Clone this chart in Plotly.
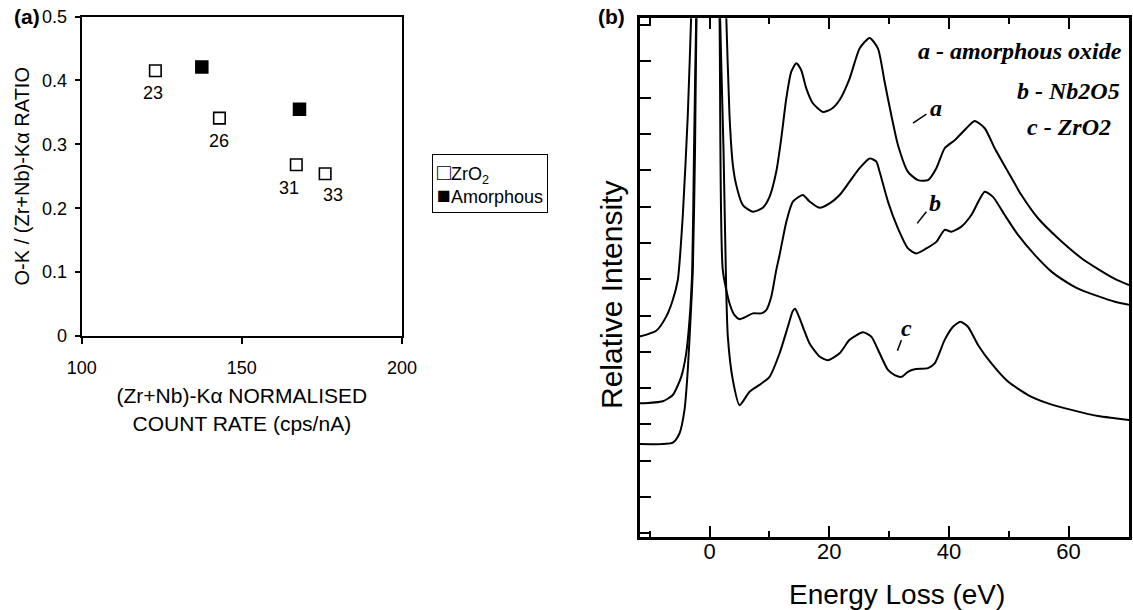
import plotly.graph_objects as go

# ---------------- Panel (a): O-K / (Zr+Nb)-K ratio vs count rate ----------------
zro2_rate = [123, 143, 167, 176]
zro2_ratio = [0.415, 0.341, 0.268, 0.254]
zro2_tags = ["23", "26", "31", "33"]

amorph_rate = [137.5, 168]
amorph_ratio = [0.421, 0.355]

# ---------------- Panel (b): low-loss EELS spectra ----------------
energy_a = [-11.7, -8.9, -7.24, -6.14, -5.3, -4.46, -3.63, -3.06, -0.1, 2.79, 3.34, 3.9,
            4.46, 5.57, 7.24, 8.91, 10.03, 11.15, 11.99, 12.83, 13.66, 14.5, 15.33, 16.17,
            17.27, 18.95, 20.35, 21.74, 23.41, 25.08, 26.76, 28.14, 29.26, 30.38, 31.49,
            33.16, 34.83, 36.51, 37.91, 39.3, 40.97, 42.64, 44.31, 45.99, 47.66, 49.88,
            52.12, 54.9, 58.24, 62.16, 64.94, 67.73, 70.1]
intensity_a = [5.42, 5.58, 5.97, 6.43, 6.98, 8.77, 11.52, 14.28, 30.0, 14.28, 11.52, 10.15,
               9.6, 9.04, 8.86, 8.97, 9.27, 9.96, 10.88, 11.98, 12.72, 12.95, 12.76, 12.26,
               11.85, 11.61, 11.69, 11.94, 12.53, 13.36, 13.65, 13.36, 12.44, 11.52, 10.7,
               9.96, 9.73, 9.73, 10.06, 10.61, 10.83, 11.11, 11.36, 11.16, 10.61, 9.96,
               9.32, 8.68, 8.13, 7.58, 7.28, 7.01, 6.84]

energy_b = [-11.7, -7.81, -6.14, -4.73, -3.9, -3.34, -2.89, -2.59, -2.22, 0.0, 1.67, 2.22,
            3.34, 4.18, 5.02, 6.14, 7.24, 8.65, 9.48, 10.32, 11.15, 11.71, 12.83, 13.93,
            15.6, 16.72, 18.39, 20.07, 21.74, 23.41, 25.08, 26.76, 27.88, 28.43, 29.82,
            31.49, 33.16, 34.57, 36.24, 37.91, 39.3, 40.42, 42.09, 43.76, 45.99, 47.37,
            49.33, 51.56, 54.35, 57.14, 60.48, 62.16, 67.73, 70.1]
intensity_b = [3.58, 3.64, 3.81, 4.31, 4.96, 5.88, 7.25, 10.56, 14.28, 30.0, 14.28, 7.25,
               6.34, 6.01, 5.9, 5.97, 6.06, 6.06, 6.15, 6.52, 7.25, 7.67, 8.58, 9.14,
               9.32, 9.14, 8.97, 9.09, 9.32, 9.69, 10.06, 10.33, 10.24, 9.96, 9.14,
               8.4, 7.85, 7.71, 7.85, 8.03, 8.36, 8.31, 8.45, 8.77, 9.41, 9.27,
               8.77, 8.22, 7.67, 7.21, 6.84, 6.7, 6.38, 6.3]

energy_c = [-11.7, -6.14, -5.02, -4.18, -3.63, -3.18, -2.79, -2.42, -2.17, 0.0, 1.76, 2.34,
            2.79, 3.06, 3.9, 5.02, 6.69, 8.36, 10.03, 11.71, 13.09, 13.9, 14.3, 15.0, 15.8,
            16.72, 18.39, 19.78, 21.74, 23.41, 25.64, 27.04, 28.43, 29.82, 30.94, 32.06,
            33.16, 34.28, 36.51, 37.63, 39.3, 40.69, 41.92, 43.19, 44.87, 47.11, 49.88,
            53.23, 56.57, 60.48, 64.93, 67.73, 70.1]
intensity_c = [2.46, 2.5, 2.75, 3.4, 4.5, 5.88, 7.25, 10.56, 14.28, 30.0, 14.28, 10.56,
               6.7, 5.42, 4.22, 3.53, 3.9, 4.09, 4.31, 4.96, 5.69, 6.12, 6.19, 5.95, 5.6,
               5.23, 4.87, 4.77, 4.96, 5.33, 5.54, 5.42, 4.96, 4.5, 4.36, 4.31,
               4.45, 4.52, 4.55, 4.68, 5.33, 5.69, 5.83, 5.69, 5.19, 4.68, 4.18,
               3.81, 3.58, 3.4, 3.23, 3.17, 3.12]

curve_names = ["a", "b", "c"]
curve_legend = ["a - amorphous oxide", "b - Nb2O5", "c - ZrO2"]

# ---------------- styling ----------------
W, H = 1133, 610
SANS = "Liberation Sans"
SERIF = "Liberation Serif"
INK = "black"

# pixel offsets of the sample tags from their markers
TAG_SHIFTS = [(-2, -22), (0, -23), (-7, -23), (8, -21)]

# curve-letter pointer positions (label x, label y, tick x0, y0, x1, y1) in data units
POINTERS = [
    (37.9, 11.71, 34.0, 11.30, 36.24, 11.55),
    (37.63, 9.09, 34.7, 8.54, 36.24, 8.86),
    (32.9, 5.67, 31.4, 5.03, 32.06, 5.32),
]
# right-hand key: (right x, centre y)
KEY_POS = [(69.3, 13.29), (69.0, 12.19), (67.5, 11.2)]


def px_x(p):
    return p / W


def px_y(p):
    return (H - p) / H


fig = go.Figure()

# panel (a) markers
fig.add_trace(go.Scatter(
    x=zro2_rate, y=zro2_ratio, mode="markers", name="ZrO2", showlegend=False,
    marker=dict(symbol="square-open", size=11.5, color=INK, line=dict(width=1.6, color=INK)),
    xaxis="x", yaxis="y"))
fig.add_trace(go.Scatter(
    x=amorph_rate, y=amorph_ratio, mode="markers", name="Amorphous", showlegend=False,
    marker=dict(symbol="square", size=13.5, color=INK, line=dict(width=0)),
    xaxis="x", yaxis="y"))

# panel (b) spectra
for ex, iy, nm in [(energy_a, intensity_a, "a"), (energy_b, intensity_b, "b"),
                   (energy_c, intensity_c, "c")]:
    fig.add_trace(go.Scatter(
        x=ex, y=iy, mode="lines", name=nm, showlegend=False,
        line=dict(color=INK, width=2, shape="spline", smoothing=0.6),
        xaxis="x2", yaxis="y2"))

annotations = []

# sample tags below the ZrO2 markers
for xv, yv, tag, (dx, dy) in zip(zro2_rate, zro2_ratio, zro2_tags, TAG_SHIFTS):
    annotations.append(dict(x=xv, y=yv, xref="x", yref="y", text=tag, showarrow=False,
                            xanchor="center", yanchor="middle", xshift=dx, yshift=dy,
                            font=dict(family=SANS, size=18, color=INK)))

# legend box for panel (a)
annotations.append(dict(
    x=px_x(431.5), y=px_y(154), xref="paper", yref="paper", xanchor="left", yanchor="top",
    text=('<span style="font-size:23px">□</span>ZrO<sub>2</sub><br>'
          '<span style="font-size:23px">■</span>Amorphous'),
    align="left", showarrow=False,
    bordercolor=INK, borderwidth=1, borderpad=4, bgcolor="white",
    font=dict(family=SANS, size=18, color=INK)))

# panel letters
annotations.append(dict(x=px_x(27), y=px_y(16), xref="paper", yref="paper", text="<b>(a)</b>",
                        xanchor="center", yanchor="middle", showarrow=False,
                        font=dict(family=SANS, size=21, color=INK)))
annotations.append(dict(x=px_x(611), y=px_y(16), xref="paper", yref="paper", text="<b>(b)</b>",
                        xanchor="center", yanchor="middle", showarrow=False,
                        font=dict(family=SANS, size=21, color=INK)))

# panel (b) key text
for (kx, ky), txt in zip(KEY_POS, curve_legend):
    annotations.append(dict(x=kx, y=ky, xref="x2", yref="y2", xanchor="right", yanchor="middle",
                            text="<b><i>%s</i></b>" % txt, showarrow=False,
                            font=dict(family=SERIF, size=24, color=INK)))

shapes = []
for (lx, ly, x0, y0, x1, y1), nm in zip(POINTERS, curve_names):
    annotations.append(dict(x=lx, y=ly, xref="x2", yref="y2", text="<b><i>%s</i></b>" % nm,
                            xanchor="center", yanchor="middle", showarrow=False,
                            font=dict(family=SERIF, size=24, color=INK)))
    shapes.append(dict(type="line", xref="x2", yref="y2", x0=x0, y0=y0, x1=x1, y1=y1,
                       line=dict(color=INK, width=1.5)))

# panel (b) axis titles
annotations.append(dict(x=31.3, y=px_y(594), xref="x2", yref="paper", text="Energy Loss (eV)",
                        xanchor="center", yanchor="middle", showarrow=False,
                        font=dict(family=SANS, size=28, color=INK)))
annotations.append(dict(x=px_x(611), y=px_y(295), xref="paper", yref="paper",
                        text="Relative Intensity", textangle=-90, showarrow=False,
                        xanchor="center", yanchor="middle",
                        font=dict(family=SANS, size=30, color=INK)))

axis_common = dict(showgrid=False, zeroline=False, showline=True, linecolor=INK,
                   automargin=False)

fig.update_layout(
    width=W, height=H, autosize=False,
    margin=dict(l=0, r=0, t=0, b=0),
    paper_bgcolor="white", plot_bgcolor="white",
    showlegend=False,
    xaxis=dict(**axis_common, domain=[px_x(81.7), px_x(402)], range=[100, 200],
               tickvals=[100, 150, 200], ticks="outside", ticklen=6, tickwidth=1.5,
               tickcolor=INK, linewidth=2, mirror=True, anchor="y",
               tickfont=dict(family=SANS, size=18, color=INK), ticklabelstandoff=8,
               title=dict(text="(Zr+Nb)-Kα NORMALISED<br>COUNT RATE (cps/nA)",
                          font=dict(family=SANS, size=21, color=INK), standoff=12)),
    yaxis=dict(**axis_common, domain=[px_y(336), px_y(16.5)], range=[0, 0.5],
               tickvals=[0, 0.1, 0.2, 0.3, 0.4, 0.5], ticktext=["0", "0.1", "0.2", "0.3", "0.4", "0.5"],
               ticks="outside", ticklen=5, tickwidth=1.5, tickcolor=INK, linewidth=2,
               mirror=True, anchor="x",
               tickfont=dict(family=SANS, size=18, color=INK), ticklabelstandoff=4,
               title=dict(text="O-K / (Zr+Nb)-Kα RATIO",
                          font=dict(family=SANS, size=20, color=INK), standoff=7)),
    xaxis2=dict(**axis_common, domain=[px_x(639.5), px_x(1129)], range=[-11.7, 70.1],
                tickvals=[0, 20, 40, 60], ticks="inside", ticklen=11, tickwidth=2,
                tickcolor=INK, linewidth=2.5, mirror="ticks", anchor="y2",
                minor=dict(tickvals=[-10, 10, 30, 50], ticks="inside", ticklen=6,
                           tickwidth=2, tickcolor=INK),
                tickfont=dict(family=SANS, size=22, color=INK), ticklabelstandoff=-7),
    yaxis2=dict(**axis_common, domain=[px_y(536.7), px_y(18.3)], range=[-0.094, 14.19],
                tickvals=list(range(15)), ticks="inside", ticklen=12, tickwidth=2,
                tickcolor=INK, linewidth=2.5, mirror=True, showticklabels=False,
                anchor="x2"),
    annotations=annotations,
    shapes=shapes,
)

fig.write_html("out.html")
